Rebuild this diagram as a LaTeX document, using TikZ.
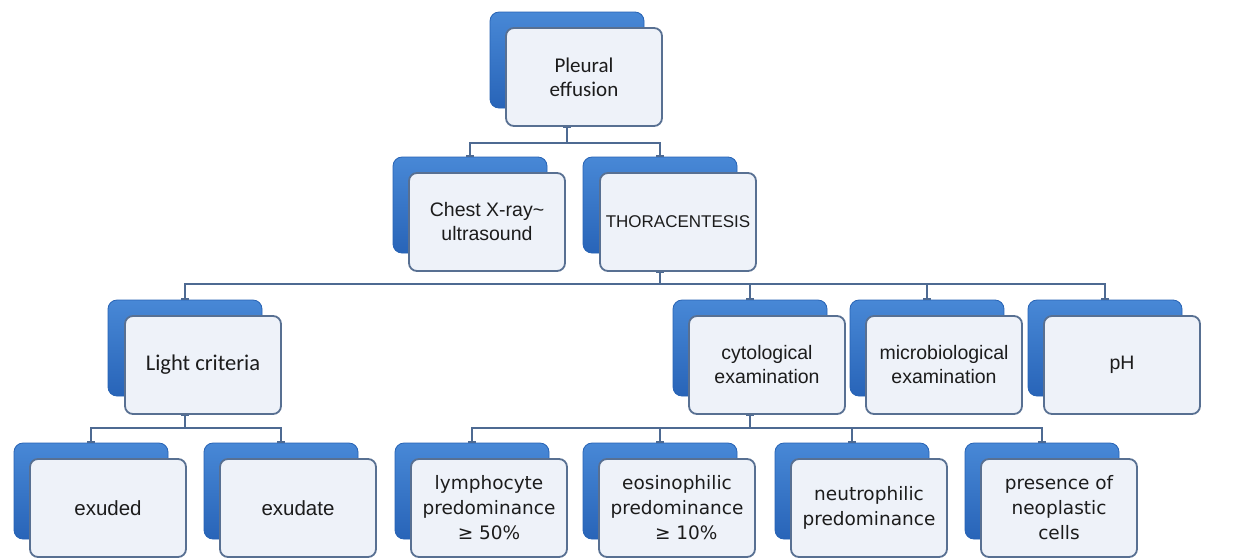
\documentclass[tikz,border=0pt]{standalone}
\usepackage{fontspec}
\usetikzlibrary{arrows.meta}
\setmainfont{Liberation Sans}
\newfontfamily\fa{Liberation Sans}
\newfontfamily\fb{DejaVu Sans}
\newfontfamily\fc{Carlito}
\definecolor{backtop}{RGB}{72,136,214}
\definecolor{backbot}{RGB}{40,100,184}
\definecolor{backdark}{RGB}{38,98,180}
\definecolor{frontfill}{RGB}{238,242,249}
\definecolor{frontedge}{RGB}{88,112,146}
\definecolor{connc}{RGB}{78,106,146}
\definecolor{txt}{RGB}{28,28,28}
\tikzset{
  backbox/.style={draw=backdark, line width=0.8pt, top color=backtop, bottom color=backbot,
    rounded corners=9pt, minimum width=154pt, minimum height=96pt, inner sep=0pt},
  frontbox/.style={draw=frontedge, line width=1.8pt, fill=frontfill, rounded corners=8pt,
    minimum width=156pt, minimum height=98pt, inner sep=0pt, align=center, text=txt,
    font=\fa\fontsize{19.5}{24}\selectfont},
  conn/.style={draw=connc, line width=2pt,
    {Bar[width=8pt,line width=1.4pt]}-{Bar[width=8pt,line width=1.4pt]}},
}
\begin{document}
\begin{tikzpicture}[x=1pt,y=-1pt]
\useasboundingbox[fill=white] (0,0) rectangle (1233,558);
\coordinate (bar1) at (0,143);
\coordinate (bar2) at (0,284);
\coordinate (bar3) at (0,428);

\node[backbox] (Pb) at (567,60) {};
\node[backbox] (Cxb) at (470,205) {};
\node[backbox] (Thb) at (660,205) {};
\node[backbox] (Lcb) at (185,348) {};
\node[backbox] (Cyb) at (750,348) {};
\node[backbox] (Mib) at (927,348) {};
\node[backbox] (Phb) at (1105,348) {};
\node[backbox] (Exb) at (91,491) {};
\node[backbox] (Eab) at (281,491) {};
\node[backbox] (Lyb) at (472,491) {};
\node[backbox] (Eob) at (660,491) {};
\node[backbox] (Neb) at (852,491) {};
\node[backbox] (Prb) at (1042,491) {};

\node[frontbox, font=\fc\fontsize{21}{24}\selectfont] (P) at (584,77) {Pleural\\effusion};
\node[frontbox] (Cx) at (487,222) {Chest X-ray\textasciitilde\\ultrasound};
\node[frontbox, font=\fa\fontsize{17}{22}\selectfont] (Th) at (678,222) {THORACENTESIS};
\node[frontbox, font=\fc\fontsize{22.5}{26}\selectfont] (Lc) at (203,365) {Light criteria};
\node[frontbox] (Cy) at (767,365) {cytological\\examination};
\node[frontbox] (Mi) at (944,365) {microbiological\\examination};
\node[frontbox] (Ph) at (1122,365) {pH};
\node[frontbox, font=\fa\fontsize{20.5}{24}\selectfont] (Ex) at (108,508) {exuded};
\node[frontbox, font=\fa\fontsize{20.5}{24}\selectfont] (Ea) at (298,508) {exudate};
\node[frontbox, font=\fb\fontsize{18.5}{25}\selectfont] (Ly) at (489,508) {lymphocyte\\predominance\\≥ 50\%};
\node[frontbox, font=\fb\fontsize{18.5}{25}\selectfont] (Eo) at (677,508) {eosinophilic\\predominance\\\hspace*{1em}≥ 10\%};
\node[frontbox, font=\fb\fontsize{18.5}{25}\selectfont] (Ne) at (869,508) {neutrophilic\\predominance};
\node[frontbox, font=\fb\fontsize{18.5}{25}\selectfont] (Pr) at (1059,508) {presence of\\neoplastic\\cells};

% connectors
\foreach \c in {Cxb,Thb}
  \draw[conn] (Pb |- P.south) -- (Pb |- bar1) -| (\c.north);
\foreach \c in {Lcb,Cyb,Mib,Phb}
  \draw[conn] (Thb |- Th.south) -- (Thb |- bar2) -| (\c.north);
\foreach \c in {Exb,Eab}
  \draw[conn] (Lcb |- Lc.south) -- (Lcb |- bar3) -| (\c.north);
\foreach \c in {Lyb,Eob,Neb,Prb}
  \draw[conn] (Cyb |- Cy.south) -- (Cyb |- bar3) -| (\c.north);
\end{tikzpicture}
\end{document}
